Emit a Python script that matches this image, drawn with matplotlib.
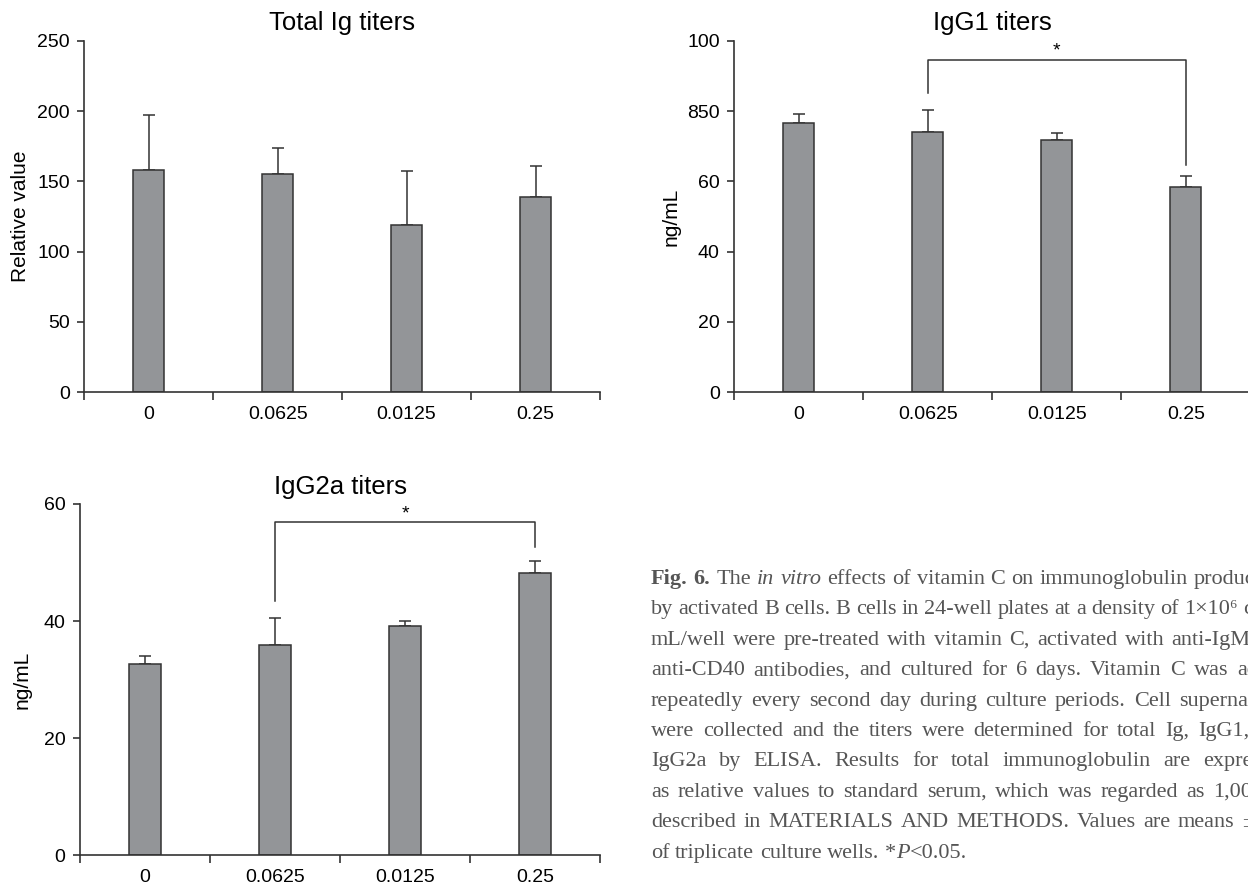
import matplotlib
matplotlib.use("Agg")
import matplotlib.pyplot as plt
import numpy as np

plt.rcParams["font.family"] = ["Liberation Sans", "DejaVu Sans"]

# vitamin C doses (x categories)
doses = ["0", "0.0625", "0.0125", "0.25"]

# total Ig, relative value (mean, upper SD)
total_ig = [158, 155, 119, 139]
total_ig_sd = [39, 19, 38, 22]

# IgG1, ng/mL
igg1 = [76.5, 74.0, 71.8, 58.5]
igg1_sd = [2.6, 6.2, 1.9, 3.0]
igg1_ticks = [0, 20, 40, 60, 80, 100]
igg1_ticklabels = ["0", "20", "40", "60", "850", "100"]

# IgG2a, ng/mL
igg2a = [32.6, 36.0, 39.2, 48.3]
igg2a_sd = [1.4, 4.6, 0.8, 2.0]

caption = [
    "~bFig. ~b6. The ~iin ~ivitro effects of vitamin C on immunoglobulin production",
    "by activated B cells. B cells in 24-well plates at a density of 1×10⁶ cells/",
    "mL/well were pre-treated with vitamin C, activated with anti-IgM and",
    "anti-CD40 antibodies, and cultured for 6 days. Vitamin C was added",
    "repeatedly every second day during culture periods. Cell supernatants",
    "were collected and the titers were determined for total Ig, IgG1, and",
    "IgG2a by ELISA. Results for total immunoglobulin are expressed",
    "as relative values to standard serum, which was regarded as 1,000 as",
    "described in MATERIALS AND METHODS. Values are means ± SD",
    "of triplicate culture wells. *|~iP|<0.05.",
]

W, H = 1248, 890
BAR = "#939598"
INK = "#333333"

fig = plt.figure(figsize=(W / 100, H / 100), dpi=100)


def px_axes(left, top, right, bottom):
    return fig.add_axes([left / W, 1 - bottom / H, (right - left) / W, (bottom - top) / H])


def draw_panel(ax, means, sds, title, ylabel, ymax, yticks, yticklabels=None, label_x=-0.124):
    x = np.arange(len(doses))
    ax.errorbar(x, means, yerr=[np.zeros(len(sds)), sds], fmt="none", ecolor=INK,
                elinewidth=1.1, capsize=4, capthick=1.1, zorder=1)
    ax.bar(x, means, width=0.24, color=BAR, edgecolor=INK, linewidth=1.1, zorder=2)
    ax.set_xlim(-0.5, len(doses) - 0.5)
    ax.set_ylim(0, ymax)
    for side in ["top", "right"]:
        ax.spines[side].set_visible(False)
    for side in ["left", "bottom"]:
        ax.spines[side].set_linewidth(1.2)
        ax.spines[side].set_color(INK)
    ax.set_xticks(np.arange(-0.5, len(doses), 1))
    ax.set_xticklabels([])
    ax.set_xticks(x, minor=True)
    ax.set_xticklabels(doses, minor=True)
    ax.tick_params(axis="x", which="major", length=6, width=1.2, color=INK)
    ax.tick_params(axis="x", which="minor", length=0, pad=10, labelsize=14)
    ax.set_yticks(yticks)
    if yticklabels is not None:
        ax.set_yticklabels(yticklabels)
    ax.tick_params(axis="y", length=5, width=1.2, color=INK, pad=5.5, labelsize=14)
    ax.set_title(title, fontsize=18.5, pad=7.5)
    ax.set_ylabel(ylabel, fontsize=15, va="center")
    ax.yaxis.set_label_coords(label_x, 0.5)


def bracket(ax, x0, x1, y_top, y_left, y_right):
    ax.plot([x0, x0, x1, x1], [y_left, y_top, y_top, y_right], color=INK, lw=1.1, clip_on=False)
    ax.text((x0 + x1) / 2, y_top, "*", ha="center", va="bottom", fontsize=14)


ax1 = px_axes(84.3, 40.7, 600, 392.3)
draw_panel(ax1, total_ig, total_ig_sd, "Total Ig titers", "Relative value", 250,
           [0, 50, 100, 150, 200, 250])

ax2 = px_axes(734.3, 40.7, 1250.3, 392.3)
draw_panel(ax2, igg1, igg1_sd, "IgG1 titers", "ng/mL", 100, igg1_ticks, igg1_ticklabels,
           label_x=-0.123)
bracket(ax2, 1, 3, 94.6, 85.1, 64.7)

ax3 = px_axes(80, 504, 600, 855.3)
draw_panel(ax3, igg2a, igg2a_sd, "IgG2a titers", "ng/mL", 60, [0, 20, 40, 60],
           label_x=-0.112)
bracket(ax3, 1, 3, 56.9, 43.5, 52.6)

# figure legend text, justified line by line
renderer = fig.canvas.get_renderer()
cap_fs = 16
cap_color = "#555555"
serif = ["Liberation Serif", "DejaVu Serif"]
x_left, x_right = 651, 1290
y0, dy = 584, 30.4
space = 0.25 * cap_fs * 100 / 72


def make_part(part):
    weight, style = "normal", "normal"
    if part.startswith("~b"):
        weight, part = "bold", part[2:]
    elif part.startswith("~i"):
        style, part = "italic", part[2:]
    t = fig.text(0, 0, part, fontsize=cap_fs, family=serif, weight=weight, style=style,
                 color=cap_color, va="baseline", ha="left")
    return t, t.get_window_extent(renderer).width


for i, line in enumerate(caption):
    y = 1 - (y0 + i * dy) / H
    words = [[make_part(p) for p in w.split("|")] for w in line.split(" ")]
    widths = [sum(w for _, w in parts) for parts in words]
    last = i == len(caption) - 1
    gap = space if last else max(space * 0.8, (x_right - x_left - sum(widths)) / (len(words) - 1))
    xpos = x_left
    for parts, w in zip(words, widths):
        xp = xpos
        for t, pw in parts:
            t.set_position((xp / W, y))
            xp += pw
        xpos += w + gap

fig.savefig("out.png", dpi=100)
